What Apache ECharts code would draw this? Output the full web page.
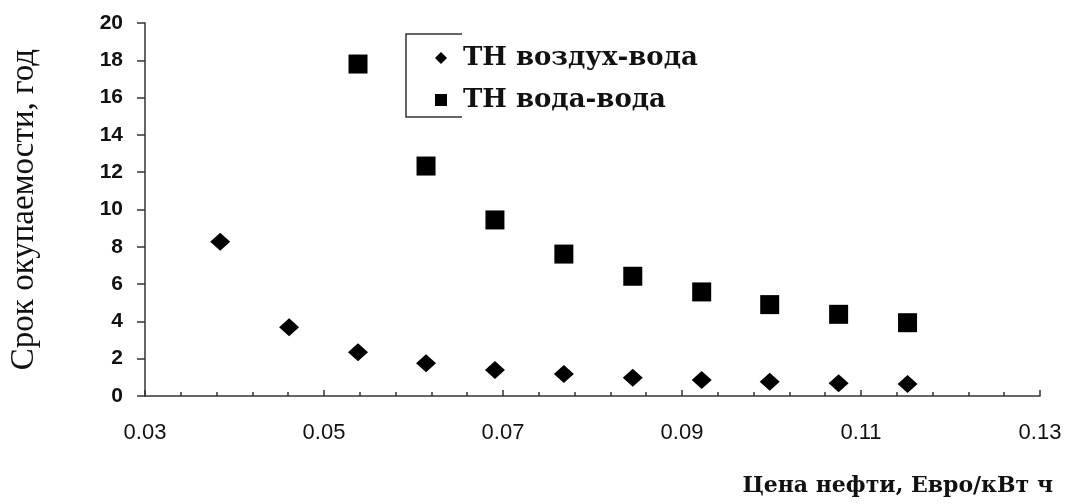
<!DOCTYPE html>
<html>
<head>
<meta charset="utf-8">
<script src="https://cdn.jsdelivr.net/npm/echarts@6/dist/echarts.min.js"></script>
<style>
  html, body { margin: 0; padding: 0; background: #fff; }
  #chart { width: 1067px; height: 504px; }
</style>
</head>
<body>
<div id="chart"></div>
<script>
// oil price, Euro/kWh
const airPrice = [0.0384, 0.0461, 0.0538, 0.0614, 0.0691, 0.0768, 0.0845, 0.0922, 0.0998, 0.1075, 0.1152];
// payback period, years (air-water heat pump)
const airPayback = [8.27, 3.68, 2.34, 1.75, 1.39, 1.18, 0.98, 0.86, 0.76, 0.68, 0.64];

const waterPrice = [0.0538, 0.0614, 0.0691, 0.0768, 0.0845, 0.0922, 0.0998, 0.1075, 0.1152];
// payback period, years (water-water heat pump)
const waterPayback = [17.8, 12.33, 9.44, 7.61, 6.42, 5.58, 4.9, 4.38, 3.93];

const xTickLabels = [0.03, 0.05, 0.07, 0.09, 0.11, 0.13];
const xMinorTicks = [0.034, 0.038, 0.042, 0.046, 0.054, 0.058, 0.062, 0.066, 0.074, 0.078,
  0.082, 0.086, 0.094, 0.098, 0.102, 0.106, 0.114, 0.118, 0.122, 0.126];
const yTickLabels = [0, 2, 4, 6, 8, 10, 12, 14, 16, 18, 20];

const seriesNames = ["ТН воздух-вода", "ТН вода-вода"];

function pairs(xs, ys) {
  return xs.map((x, i) => [x, ys[i]]);
}

function renderChart() {
  const chart = echarts.init(document.getElementById("chart"));
  const axisColor = "#333";

  const option = {
    animation: false,
    backgroundColor: "#fff",
    grid: { left: 145, right: 27, top: 23, bottom: 108 },
    title: {
      text: "Цена нефти, Евро/кВт ч",
      right: 9,
      top: 470,
      textStyle: {
        fontFamily: "DejaVu Serif",
        fontWeight: "bold",
        fontSize: 22,
        color: "#111",
      },
    },
    legend: {
      orient: "vertical",
      left: 430,
      top: 40,
      itemWidth: 12,
      itemHeight: 12,
      itemGap: 16,
      data: [
        { name: seriesNames[0], icon: "diamond" },
        { name: seriesNames[1], icon: "rect" },
      ],
      textStyle: {
        fontFamily: "DejaVu Serif",
        fontWeight: "bold",
        fontSize: 26,
        color: "#111",
        lineHeight: 26,
        padding: [0, 0, 0, 11],
      },
    },
    xAxis: [
      {
        type: "value",
        min: 0.03,
        max: 0.13,
        splitLine: { show: false },
        axisLine: { lineStyle: { color: axisColor, width: 1.5 } },
        axisTick: {
          customValues: xTickLabels,
          inside: true,
          length: 6,
          lineStyle: { color: axisColor, width: 1.5 },
        },
        axisLabel: {
          customValues: xTickLabels,
          margin: 26,
          fontFamily: "Liberation Sans",
          fontSize: 22,
          color: "#111",
          formatter: (v) => v.toFixed(2),
        },
      },
      {
        type: "value",
        min: 0.03,
        max: 0.13,
        position: "bottom",
        splitLine: { show: false },
        axisLine: { show: false },
        axisTick: {
          customValues: xMinorTicks,
          inside: true,
          length: 4,
          lineStyle: { color: axisColor, width: 1.5 },
        },
        axisLabel: { show: false },
      },
    ],
    yAxis: {
      type: "value",
      min: 0,
      max: 20,
      interval: 2,
      name: "Срок окупаемости, год",
      nameLocation: "middle",
      nameGap: 104,
      nameRotate: 90,
      nameTextStyle: {
        fontFamily: "Liberation Serif",
        fontSize: 33,
        color: "#111",
      },
      splitLine: { show: false },
      axisLine: { show: true, lineStyle: { color: axisColor, width: 1.5 } },
      axisTick: { show: true, length: 8, lineStyle: { color: axisColor, width: 1.5 } },
      axisLabel: {
        customValues: yTickLabels,
        margin: 22,
        fontFamily: "Liberation Sans",
        fontWeight: "bold",
        fontSize: 21,
        color: "#111",
      },
    },
    graphic: [
      {
        type: "polyline",
        shape: { points: [[462, 34], [406, 34], [406, 117], [462, 117]] },
        style: { stroke: axisColor, lineWidth: 1.5, fill: null },
      },
    ],
    series: [
      {
        name: seriesNames[0],
        type: "scatter",
        symbol: "diamond",
        symbolSize: [20, 18],
        itemStyle: { color: "#000", opacity: 1 },
        data: pairs(airPrice, airPayback),
      },
      {
        name: seriesNames[1],
        type: "scatter",
        symbol: "rect",
        symbolSize: 19,
        itemStyle: { color: "#000", opacity: 1 },
        data: pairs(waterPrice, waterPayback),
      },
    ],
  };

  chart.setOption(option);
}

document.addEventListener("DOMContentLoaded", function () {
  renderChart();
});
</script>
</body>
</html>
